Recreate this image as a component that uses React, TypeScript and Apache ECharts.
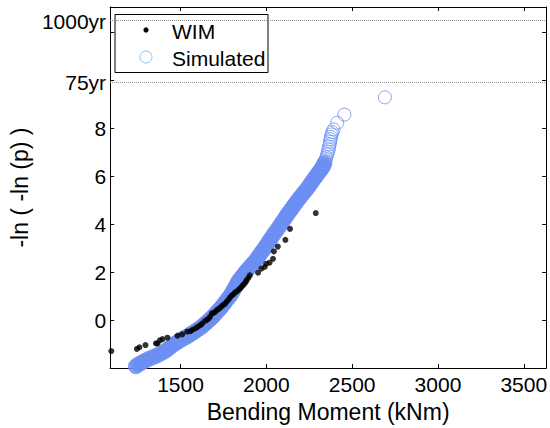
import React, { useEffect, useRef } from "react";
import * as echarts from "echarts";

// WIM measured points (Bending moment kNm, reduced variate)
const wimX = [1097, 1246, 1261, 1296, 1357, 1366, 1380, 1395, 1424, 1482, 1510, 1539, 1558, 1570, 1587, 1600, 1616, 1626, 1643, 1655, 1664, 1673, 1683, 1692, 1702, 1712, 1722, 1731, 1741, 1750, 1760, 1770, 1780, 1789, 1798, 1808, 1817, 1828, 1839, 1847, 1856, 1864, 1873, 1880, 1885, 1895, 1904, 1952, 1971, 1990, 1999, 2019, 2039, 2044, 2067, 2111, 2138, 2288];
const wimY = [-1.29, -1.2, -1.13, -1.04, -0.97, -0.97, -0.84, -0.79, -0.73, -0.65, -0.59, -0.48, -0.46, -0.4, -0.34, -0.28, -0.21, -0.14, -0.03, 0.02, 0.07, 0.15, 0.28, 0.3, 0.35, 0.42, 0.47, 0.52, 0.59, 0.64, 0.69, 0.78, 0.86, 0.95, 1.03, 1.08, 1.15, 1.2, 1.27, 1.33, 1.39, 1.46, 1.52, 1.6, 1.66, 1.76, 1.87, 1.98, 2.15, 2.22, 2.35, 2.4, 2.56, 2.87, 3.07, 3.35, 3.81, 4.47];

// Simulated points, dense body of the distribution
const simX = [1240, 1255, 1272, 1292, 1314, 1338, 1360, 1382, 1404, 1420, 1436, 1453, 1470, 1488, 1505, 1522, 1539, 1556, 1574, 1592, 1609, 1626, 1640, 1655, 1669, 1683, 1698, 1712, 1727, 1741, 1755, 1770, 1784, 1798, 1808, 1819, 1829, 1839, 1851, 1862, 1874, 1885, 1898, 1911, 1924, 1937, 1949, 1960, 1972, 1983, 1995, 2006, 2018, 2029, 2043, 2058, 2072, 2086, 2098, 2110, 2121, 2133, 2146, 2158, 2171, 2184, 2197, 2210, 2223, 2236, 2248, 2259, 2270, 2282, 2291, 2300, 2310, 2320, 2327, 2333, 2338];
const simY = [-1.92, -1.85, -1.78, -1.7, -1.62, -1.55, -1.48, -1.4, -1.32, -1.24, -1.15, -1.05, -0.97, -0.89, -0.81, -0.74, -0.68, -0.6, -0.52, -0.43, -0.35, -0.26, -0.17, -0.08, 0.02, 0.11, 0.22, 0.34, 0.45, 0.57, 0.7, 0.84, 0.97, 1.11, 1.24, 1.38, 1.51, 1.65, 1.75, 1.85, 1.96, 2.06, 2.17, 2.27, 2.38, 2.48, 2.6, 2.71, 2.83, 2.94, 3.06, 3.18, 3.31, 3.43, 3.58, 3.73, 3.87, 4.02, 4.14, 4.27, 4.39, 4.51, 4.63, 4.76, 4.88, 5.01, 5.13, 5.24, 5.36, 5.47, 5.59, 5.7, 5.82, 5.93, 6.02, 6.11, 6.21, 6.3, 6.38, 6.46, 6.55];
// Simulated points, upper tail (distinct rings)
const simTailX = [2342, 2346, 2350, 2355, 2359, 2363, 2366, 2369, 2372, 2374, 2377, 2380, 2385, 2392, 2413, 2455, 2691];
const simTailY = [6.63, 6.71, 6.8, 6.92, 7.02, 7.13, 7.24, 7.34, 7.45, 7.55, 7.65, 7.75, 7.85, 7.96, 8.24, 8.58, 9.3];

const xTicks = [1500, 2000, 2500, 3000, 3500];
const yTicks = [0, 2, 4, 6, 8, 10, 12];
const yLabelValues = [0, 2, 4, 6, 8, 9.93, 12.45];
const yLabelTexts = ["0", "2", "4", "6", "8", "75yr", "1000yr"];
const returnLevels = [9.93, 12.51];

const FONT = "'Liberation Sans', Arial, Helvetica, sans-serif";
const BLUE = "#6b8ef3";

export default function App() {
  const ref = useRef<HTMLDivElement>(null);
  useEffect(() => {
    if (!ref.current) return;
    const chart = echarts.init(ref.current, null, { renderer: "svg" });
    const axisCommon = {
      type: "value" as const,
      splitLine: { show: false },
      axisLine: { show: true, onZero: false, lineStyle: { color: "#000", width: 1 } },
    };
    chart.setOption({
      animation: false,
      backgroundColor: "#fff",
      grid: { left: 107, top: 7, width: 441, height: 363, containLabel: false },
      xAxis: [
        {
          ...axisCommon,
          position: "bottom",
          min: 1090,
          max: 3630,
          name: "Bending Moment (kNm)",
          nameLocation: "middle",
          nameGap: 27,
          nameTextStyle: { fontFamily: FONT, fontSize: 23, color: "#000" },
          axisTick: { show: true, inside: true, length: 4, customValues: xTicks, lineStyle: { color: "#000" } },
          axisLabel: {
            show: true,
            margin: 6,
            customValues: xTicks,
            fontFamily: FONT,
            fontSize: 21,
            color: "#000",
            formatter: (v: number) => String(v),
          },
        },
        {
          ...axisCommon,
          position: "top",
          min: 1090,
          max: 3630,
          axisTick: { show: true, inside: true, length: 4, customValues: xTicks, lineStyle: { color: "#000" } },
          axisLabel: { show: false },
        },
      ],
      yAxis: [
        {
          ...axisCommon,
          position: "left",
          min: -2,
          max: 13.07,
          name: "-ln ( -ln (p) )",
          nameLocation: "middle",
          nameGap: 73,
          nameTextStyle: { fontFamily: FONT, fontSize: 23, color: "#000" },
          axisTick: { show: true, inside: true, length: 4, customValues: yTicks, lineStyle: { color: "#000" } },
          axisLabel: {
            show: true,
            margin: 4,
            customValues: yLabelValues,
            fontFamily: FONT,
            fontSize: 21,
            color: "#000",
            formatter: (v: number) => {
              const i = yLabelValues.findIndex((t) => Math.abs(t - v) < 1e-6);
              return i >= 0 ? yLabelTexts[i] : String(v);
            },
          },
        },
        {
          ...axisCommon,
          position: "right",
          min: -2,
          max: 13.07,
          axisTick: { show: true, inside: true, length: 4, customValues: yTicks, lineStyle: { color: "#000" } },
          axisLabel: { show: false },
        },
      ],
      series: [
        {
          name: "Simulated",
          type: "scatter",
          symbol: "circle",
          symbolSize: 15,
          itemStyle: { color: BLUE, borderColor: BLUE, borderWidth: 1 },
          data: simX.map((x, i) => [x, simY[i]]),
          z: 2,
        },
        {
          name: "Simulated",
          type: "scatter",
          symbol: "circle",
          symbolSize: 13,
          itemStyle: { color: "rgba(0,0,0,0)", borderColor: BLUE, borderWidth: 1 },
          data: simTailX.map((x, i) => [x, simTailY[i]]),
          z: 2,
        },
        {
          name: "WIM",
          type: "scatter",
          symbol: "circle",
          symbolSize: 6,
          itemStyle: { color: "#000" },
          data: wimX.map((x, i) => [x, wimY[i]]),
          z: 3,
          markLine: {
            silent: true,
            symbol: "none",
            label: { show: false },
            lineStyle: { color: "#8a8a8a", type: "dotted", width: 1 },
            data: returnLevels.map((v) => ({ yAxis: v })),
          },
        },
      ],
      graphic: [
        {
          type: "group",
          z: 100,
          children: [
            { type: "rect", shape: { x: 115, y: 14.5, width: 153, height: 58 }, style: { fill: "#fff", stroke: "#000", lineWidth: 1 } },
            { type: "circle", shape: { cx: 146, cy: 30, r: 2.6 }, style: { fill: "#000" } },
            { type: "circle", shape: { cx: 146, cy: 57, r: 6 }, style: { fill: "none", stroke: "#82c6fa", lineWidth: 1 } },
            { type: "text", x: 172, y: 31, style: { text: "WIM", fontFamily: FONT, fontSize: 21, fill: "#000", verticalAlign: "middle", align: "left" } },
            { type: "text", x: 172, y: 58, style: { text: "Simulated", fontFamily: FONT, fontSize: 21, fill: "#000", verticalAlign: "middle", align: "left" } },
          ],
        },
      ],
    });
    return () => chart.dispose();
  }, []);
  return <div ref={ref} style={{ position: "fixed", left: 0, top: 0, width: 550, height: 428 }} />;
}
